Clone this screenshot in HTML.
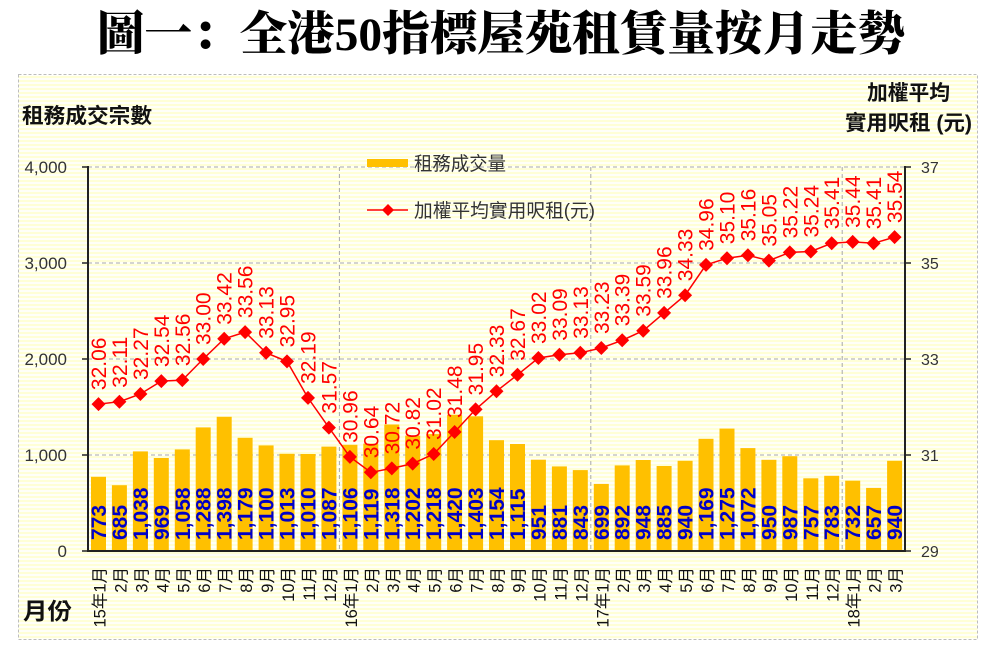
<!DOCTYPE html>
<html><head><meta charset="utf-8"><style>
html,body{margin:0;padding:0;background:#fff;}
svg{display:block;}
.s{font-family:"Liberation Sans","Noto Sans CJK TC","Noto Sans CJK SC",sans-serif;}
.bl{font-family:"Liberation Sans",sans-serif;font-size:21px;font-weight:bold;fill:#0000C8;}
.rl{font-family:"Liberation Sans",sans-serif;font-size:21px;fill:#FF0000;}
.xl{font-family:"Liberation Sans","Noto Sans CJK TC","Noto Sans CJK SC",sans-serif;font-size:16.5px;fill:#111;}
</style></head><body>
<svg width="1004" height="653" viewBox="0 0 1004 653" xmlns="http://www.w3.org/2000/svg">
<defs>
<pattern id="st" width="4" height="4" patternUnits="userSpaceOnUse"><rect width="4" height="4" fill="#FFFFF8"/><rect width="4" height="2" fill="#FFFFD6"/></pattern>
<path id="d" d="M0,-7L7,0L0,7L-7,0Z" fill="#FF0000"/>
</defs>
<rect width="1004" height="653" fill="#fff"/>
<text x="97" y="50" textLength="808" lengthAdjust="spacingAndGlyphs" style="font-family:'Liberation Serif','Noto Serif CJK SC',serif;font-size:47px;font-weight:900;fill:#000;">圖一：全港50指標屋苑租賃量按月走勢</text>
<rect x="18.5" y="74.5" width="959" height="565" fill="url(#st)" stroke="#BDBDBD" stroke-dasharray="3,2"/>
<!-- axis titles -->
<text class="s" x="22" y="123" textLength="130" lengthAdjust="spacingAndGlyphs" style="font-size:21px;font-weight:bold;fill:#111;">租務成交宗數</text>
<text class="s" x="867" y="100" textLength="83" lengthAdjust="spacingAndGlyphs" style="font-size:21px;font-weight:bold;fill:#111;">加權平均</text>
<text class="s" x="845" y="130" textLength="127" lengthAdjust="spacingAndGlyphs" style="font-size:21px;font-weight:bold;fill:#111;">實用呎租 (元)</text>
<text class="s" x="23" y="619" textLength="49" lengthAdjust="spacingAndGlyphs" style="font-size:23px;font-weight:bold;fill:#111;">月份</text>
<!-- gridlines -->
<g stroke="#A8A8A8" stroke-width="1" stroke-dasharray="4,3">
<line x1="88" y1="167" x2="905" y2="167"/>
<line x1="88" y1="263" x2="905" y2="263"/>
<line x1="88" y1="359" x2="905" y2="359"/>
<line x1="88" y1="455" x2="905" y2="455"/>
<line x1="339.4" y1="167" x2="339.4" y2="551"/>
<line x1="590.8" y1="167" x2="590.8" y2="551"/>
<line x1="842.2" y1="167" x2="842.2" y2="551"/>
</g>
<!-- legend -->
<rect x="367" y="159" width="41" height="8" fill="#FFC000"/>
<text class="s" x="414" y="170" textLength="92" lengthAdjust="spacingAndGlyphs" style="font-size:19px;fill:#333;">租務成交量</text>
<line x1="367" y1="210" x2="408" y2="210" stroke="#FF0000" stroke-width="1.5"/>
<path d="M388,204L394,210L388,216L382,210Z" fill="#FF0000"/>
<text class="s" x="414" y="217" textLength="181" lengthAdjust="spacingAndGlyphs" style="font-size:19px;fill:#333;">加權平均實用呎租(元)</text>
<!-- bars -->
<g fill="#FFC000">
<rect x="91.0" y="476.8" width="15" height="74.2"/>
<rect x="111.9" y="485.2" width="15" height="65.8"/>
<rect x="132.9" y="451.4" width="15" height="99.6"/>
<rect x="153.8" y="458.0" width="15" height="93.0"/>
<rect x="174.8" y="449.4" width="15" height="101.6"/>
<rect x="195.7" y="427.4" width="15" height="123.6"/>
<rect x="216.7" y="416.8" width="15" height="134.2"/>
<rect x="237.6" y="437.8" width="15" height="113.2"/>
<rect x="258.6" y="445.4" width="15" height="105.6"/>
<rect x="279.5" y="453.8" width="15" height="97.2"/>
<rect x="300.5" y="454.0" width="15" height="97.0"/>
<rect x="321.4" y="446.6" width="15" height="104.4"/>
<rect x="342.4" y="444.8" width="15" height="106.2"/>
<rect x="363.3" y="443.6" width="15" height="107.4"/>
<rect x="384.3" y="424.5" width="15" height="126.5"/>
<rect x="405.2" y="435.6" width="15" height="115.4"/>
<rect x="426.2" y="434.1" width="15" height="116.9"/>
<rect x="447.1" y="414.7" width="15" height="136.3"/>
<rect x="468.1" y="416.3" width="15" height="134.7"/>
<rect x="489.0" y="440.2" width="15" height="110.8"/>
<rect x="510.0" y="444.0" width="15" height="107.0"/>
<rect x="530.9" y="459.7" width="15" height="91.3"/>
<rect x="551.9" y="466.4" width="15" height="84.6"/>
<rect x="572.8" y="470.1" width="15" height="80.9"/>
<rect x="593.8" y="483.9" width="15" height="67.1"/>
<rect x="614.7" y="465.4" width="15" height="85.6"/>
<rect x="635.7" y="460.0" width="15" height="91.0"/>
<rect x="656.6" y="466.0" width="15" height="85.0"/>
<rect x="677.6" y="460.8" width="15" height="90.2"/>
<rect x="698.5" y="438.8" width="15" height="112.2"/>
<rect x="719.5" y="428.6" width="15" height="122.4"/>
<rect x="740.4" y="448.1" width="15" height="102.9"/>
<rect x="761.4" y="459.8" width="15" height="91.2"/>
<rect x="782.3" y="456.2" width="15" height="94.8"/>
<rect x="803.3" y="478.3" width="15" height="72.7"/>
<rect x="824.2" y="475.8" width="15" height="75.2"/>
<rect x="845.2" y="480.7" width="15" height="70.3"/>
<rect x="866.1" y="487.9" width="15" height="63.1"/>
<rect x="887.1" y="460.8" width="15" height="90.2"/>
</g>
<!-- bar labels -->
<g class="bl">
<text transform="translate(106.0,540) rotate(-90)">773</text>
<text transform="translate(126.9,540) rotate(-90)">685</text>
<text transform="translate(147.9,540) rotate(-90)">1,038</text>
<text transform="translate(168.8,540) rotate(-90)">969</text>
<text transform="translate(189.8,540) rotate(-90)">1,058</text>
<text transform="translate(210.7,540) rotate(-90)">1,288</text>
<text transform="translate(231.7,540) rotate(-90)">1,398</text>
<text transform="translate(252.6,540) rotate(-90)">1,179</text>
<text transform="translate(273.6,540) rotate(-90)">1,100</text>
<text transform="translate(294.5,540) rotate(-90)">1,013</text>
<text transform="translate(315.5,540) rotate(-90)">1,010</text>
<text transform="translate(336.4,540) rotate(-90)">1,087</text>
<text transform="translate(357.4,540) rotate(-90)">1,106</text>
<text transform="translate(378.3,540) rotate(-90)">1,119</text>
<text transform="translate(399.3,540) rotate(-90)">1,318</text>
<text transform="translate(420.2,540) rotate(-90)">1,202</text>
<text transform="translate(441.2,540) rotate(-90)">1,218</text>
<text transform="translate(462.1,540) rotate(-90)">1,420</text>
<text transform="translate(483.1,540) rotate(-90)">1,403</text>
<text transform="translate(504.0,540) rotate(-90)">1,154</text>
<text transform="translate(525.0,540) rotate(-90)">1,115</text>
<text transform="translate(545.9,540) rotate(-90)">951</text>
<text transform="translate(566.9,540) rotate(-90)">881</text>
<text transform="translate(587.8,540) rotate(-90)">843</text>
<text transform="translate(608.8,540) rotate(-90)">699</text>
<text transform="translate(629.7,540) rotate(-90)">892</text>
<text transform="translate(650.7,540) rotate(-90)">948</text>
<text transform="translate(671.6,540) rotate(-90)">885</text>
<text transform="translate(692.6,540) rotate(-90)">940</text>
<text transform="translate(713.5,540) rotate(-90)">1,169</text>
<text transform="translate(734.5,540) rotate(-90)">1,275</text>
<text transform="translate(755.4,540) rotate(-90)">1,072</text>
<text transform="translate(776.4,540) rotate(-90)">950</text>
<text transform="translate(797.3,540) rotate(-90)">987</text>
<text transform="translate(818.3,540) rotate(-90)">757</text>
<text transform="translate(839.2,540) rotate(-90)">783</text>
<text transform="translate(860.2,540) rotate(-90)">732</text>
<text transform="translate(881.1,540) rotate(-90)">657</text>
<text transform="translate(902.1,540) rotate(-90)">940</text>
</g>
<!-- line -->
<polyline fill="none" stroke="#FF0000" stroke-width="1.5" points="98.5,404.1 119.4,401.7 140.4,394.0 161.3,381.1 182.3,380.1 203.2,359.0 224.2,338.8 245.1,332.1 266.1,352.8 287.0,361.4 308.0,397.9 328.9,427.6 349.9,456.9 370.8,472.3 391.8,468.4 412.7,463.6 433.7,454.0 454.6,432.0 475.6,409.4 496.5,391.2 517.5,374.8 538.4,358.0 559.4,354.7 580.3,352.8 601.3,348.0 622.2,340.3 643.2,330.7 664.1,312.9 685.1,295.2 706.0,264.9 727.0,258.2 747.9,255.3 768.9,260.6 789.8,252.4 810.8,251.5 831.7,243.3 852.7,241.9 873.6,243.3 894.6,237.1"/>
<g>
<use href="#d" x="98.5" y="404.1"/><use href="#d" x="119.4" y="401.7"/><use href="#d" x="140.4" y="394.0"/><use href="#d" x="161.3" y="381.1"/><use href="#d" x="182.3" y="380.1"/><use href="#d" x="203.2" y="359.0"/><use href="#d" x="224.2" y="338.8"/><use href="#d" x="245.1" y="332.1"/><use href="#d" x="266.1" y="352.8"/><use href="#d" x="287.0" y="361.4"/><use href="#d" x="308.0" y="397.9"/><use href="#d" x="328.9" y="427.6"/><use href="#d" x="349.9" y="456.9"/><use href="#d" x="370.8" y="472.3"/><use href="#d" x="391.8" y="468.4"/><use href="#d" x="412.7" y="463.6"/><use href="#d" x="433.7" y="454.0"/><use href="#d" x="454.6" y="432.0"/><use href="#d" x="475.6" y="409.4"/><use href="#d" x="496.5" y="391.2"/><use href="#d" x="517.5" y="374.8"/><use href="#d" x="538.4" y="358.0"/><use href="#d" x="559.4" y="354.7"/><use href="#d" x="580.3" y="352.8"/><use href="#d" x="601.3" y="348.0"/><use href="#d" x="622.2" y="340.3"/><use href="#d" x="643.2" y="330.7"/><use href="#d" x="664.1" y="312.9"/><use href="#d" x="685.1" y="295.2"/><use href="#d" x="706.0" y="264.9"/><use href="#d" x="727.0" y="258.2"/><use href="#d" x="747.9" y="255.3"/><use href="#d" x="768.9" y="260.6"/><use href="#d" x="789.8" y="252.4"/><use href="#d" x="810.8" y="251.5"/><use href="#d" x="831.7" y="243.3"/><use href="#d" x="852.7" y="241.9"/><use href="#d" x="873.6" y="243.3"/><use href="#d" x="894.6" y="237.1"/>
</g>
<!-- line labels -->
<g class="rl">
<text transform="translate(106.0,390.1) rotate(-90)">32.06</text>
<text transform="translate(126.9,387.7) rotate(-90)">32.11</text>
<text transform="translate(147.9,380.0) rotate(-90)">32.27</text>
<text transform="translate(168.8,367.1) rotate(-90)">32.54</text>
<text transform="translate(189.8,366.1) rotate(-90)">32.56</text>
<text transform="translate(210.7,345.0) rotate(-90)">33.00</text>
<text transform="translate(231.7,324.8) rotate(-90)">33.42</text>
<text transform="translate(252.6,318.1) rotate(-90)">33.56</text>
<text transform="translate(273.6,338.8) rotate(-90)">33.13</text>
<text transform="translate(294.5,347.4) rotate(-90)">32.95</text>
<text transform="translate(315.5,383.9) rotate(-90)">32.19</text>
<text transform="translate(336.4,413.6) rotate(-90)">31.57</text>
<text transform="translate(357.4,442.9) rotate(-90)">30.96</text>
<text transform="translate(378.3,458.3) rotate(-90)">30.64</text>
<text transform="translate(399.3,454.4) rotate(-90)">30.72</text>
<text transform="translate(420.2,449.6) rotate(-90)">30.82</text>
<text transform="translate(441.2,440.0) rotate(-90)">31.02</text>
<text transform="translate(462.1,418.0) rotate(-90)">31.48</text>
<text transform="translate(483.1,395.4) rotate(-90)">31.95</text>
<text transform="translate(504.0,377.2) rotate(-90)">32.33</text>
<text transform="translate(525.0,360.8) rotate(-90)">32.67</text>
<text transform="translate(545.9,344.0) rotate(-90)">33.02</text>
<text transform="translate(566.9,340.7) rotate(-90)">33.09</text>
<text transform="translate(587.8,338.8) rotate(-90)">33.13</text>
<text transform="translate(608.8,334.0) rotate(-90)">33.23</text>
<text transform="translate(629.7,326.3) rotate(-90)">33.39</text>
<text transform="translate(650.7,316.7) rotate(-90)">33.59</text>
<text transform="translate(671.6,298.9) rotate(-90)">33.96</text>
<text transform="translate(692.6,281.2) rotate(-90)">34.33</text>
<text transform="translate(713.5,250.9) rotate(-90)">34.96</text>
<text transform="translate(734.5,244.2) rotate(-90)">35.10</text>
<text transform="translate(755.4,241.3) rotate(-90)">35.16</text>
<text transform="translate(776.4,246.6) rotate(-90)">35.05</text>
<text transform="translate(797.3,238.4) rotate(-90)">35.22</text>
<text transform="translate(818.3,237.5) rotate(-90)">35.24</text>
<text transform="translate(839.2,229.3) rotate(-90)">35.41</text>
<text transform="translate(860.2,227.9) rotate(-90)">35.44</text>
<text transform="translate(881.1,229.3) rotate(-90)">35.41</text>
<text transform="translate(902.1,223.1) rotate(-90)">35.54</text>
</g>
<!-- axes -->
<g stroke="#222" stroke-width="2" fill="none">
<line x1="88" y1="166" x2="88" y2="552"/>
<line x1="905" y1="166" x2="905" y2="552"/>
<line x1="87" y1="551" x2="906" y2="551"/>
</g>
<g stroke="#222" stroke-width="1.5">
<line x1="82" y1="167" x2="88" y2="167"/><line x1="82" y1="263" x2="88" y2="263"/><line x1="82" y1="359" x2="88" y2="359"/><line x1="82" y1="455" x2="88" y2="455"/><line x1="82" y1="551" x2="88" y2="551"/>
<line x1="905" y1="167" x2="911" y2="167"/><line x1="905" y1="263" x2="911" y2="263"/><line x1="905" y1="359" x2="911" y2="359"/><line x1="905" y1="455" x2="911" y2="455"/><line x1="905" y1="551" x2="911" y2="551"/>
</g>
<g class="s" style="font-size:17px;fill:#333;" text-anchor="end">
<text x="67" y="173">4,000</text>
<text x="67" y="269">3,000</text>
<text x="67" y="365">2,000</text>
<text x="67" y="461">1,000</text>
<text x="67" y="557">0</text>
</g>
<g class="s" style="font-size:16px;fill:#333;">
<text x="921" y="173">37</text>
<text x="921" y="269">35</text>
<text x="921" y="365">33</text>
<text x="921" y="461">31</text>
<text x="921" y="557">29</text>
</g>
<!-- x labels -->
<g class="xl" text-anchor="end">
<text transform="translate(105.5,567) rotate(-90)">15年1月</text>
<text transform="translate(126.4,567) rotate(-90)">2月</text>
<text transform="translate(147.4,567) rotate(-90)">3月</text>
<text transform="translate(168.3,567) rotate(-90)">4月</text>
<text transform="translate(189.3,567) rotate(-90)">5月</text>
<text transform="translate(210.2,567) rotate(-90)">6月</text>
<text transform="translate(231.2,567) rotate(-90)">7月</text>
<text transform="translate(252.1,567) rotate(-90)">8月</text>
<text transform="translate(273.1,567) rotate(-90)">9月</text>
<text transform="translate(294.0,567) rotate(-90)">10月</text>
<text transform="translate(315.0,567) rotate(-90)">11月</text>
<text transform="translate(335.9,567) rotate(-90)">12月</text>
<text transform="translate(356.9,567) rotate(-90)">16年1月</text>
<text transform="translate(377.8,567) rotate(-90)">2月</text>
<text transform="translate(398.8,567) rotate(-90)">3月</text>
<text transform="translate(419.7,567) rotate(-90)">4月</text>
<text transform="translate(440.7,567) rotate(-90)">5月</text>
<text transform="translate(461.6,567) rotate(-90)">6月</text>
<text transform="translate(482.6,567) rotate(-90)">7月</text>
<text transform="translate(503.5,567) rotate(-90)">8月</text>
<text transform="translate(524.5,567) rotate(-90)">9月</text>
<text transform="translate(545.4,567) rotate(-90)">10月</text>
<text transform="translate(566.4,567) rotate(-90)">11月</text>
<text transform="translate(587.3,567) rotate(-90)">12月</text>
<text transform="translate(608.3,567) rotate(-90)">17年1月</text>
<text transform="translate(629.2,567) rotate(-90)">2月</text>
<text transform="translate(650.2,567) rotate(-90)">3月</text>
<text transform="translate(671.1,567) rotate(-90)">4月</text>
<text transform="translate(692.1,567) rotate(-90)">5月</text>
<text transform="translate(713.0,567) rotate(-90)">6月</text>
<text transform="translate(734.0,567) rotate(-90)">7月</text>
<text transform="translate(754.9,567) rotate(-90)">8月</text>
<text transform="translate(775.9,567) rotate(-90)">9月</text>
<text transform="translate(796.8,567) rotate(-90)">10月</text>
<text transform="translate(817.8,567) rotate(-90)">11月</text>
<text transform="translate(838.7,567) rotate(-90)">12月</text>
<text transform="translate(859.7,567) rotate(-90)">18年1月</text>
<text transform="translate(880.6,567) rotate(-90)">2月</text>
<text transform="translate(901.6,567) rotate(-90)">3月</text>
</g>
</svg>
</body></html>
